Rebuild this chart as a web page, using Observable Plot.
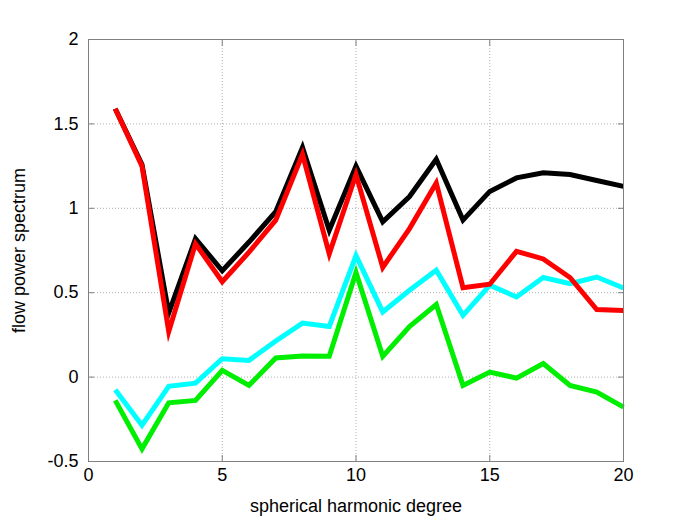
<!DOCTYPE html>
<html>
<head>
<meta charset="utf-8">
<script src="https://cdn.jsdelivr.net/npm/d3@7"></script>
<script src="https://cdn.jsdelivr.net/npm/@observablehq/plot@0.6"></script>
<style>
  html, body { margin: 0; padding: 0; background: #fff; }
</style>
</head>
<body>
<div id="chart"></div>
<script>
const degrees = [1,2,3,4,5,6,7,8,9,10,11,12,13,14,15,16,17,18,19,20];
const blackSeries = [1.59,1.26,0.38,0.82,0.63,0.80,0.98,1.36,0.87,1.25,0.92,1.07,1.29,0.93,1.10,1.18,1.21,1.20,1.165,1.13];
const redSeries   = [1.59,1.25,0.27,0.79,0.565,0.74,0.93,1.32,0.73,1.20,0.65,0.88,1.15,0.53,0.55,0.745,0.70,0.59,0.40,0.395];
const cyanSeries  = [-0.075,-0.285,-0.055,-0.036,0.109,0.099,0.214,0.32,0.30,0.72,0.386,0.514,0.633,0.366,0.544,0.475,0.59,0.554,0.593,0.528];
const greenSeries = [-0.138,-0.425,-0.152,-0.138,0.04,-0.049,0.113,0.125,0.123,0.62,0.123,0.30,0.43,-0.049,0.03,-0.006,0.08,-0.05,-0.089,-0.178];
const xTicks = [0,5,10,15,20];
const yTicks = [-0.5,0,0.5,1,1.5,2];
const yTickLabels = ["-0.5","0","0.5","1","1.5","2"];

const toRows = vals => degrees.map((d, i) => ({x: d, y: vals[i]}));
const lineOpts = c => ({x: "x", y: "y", stroke: c, strokeWidth: 5, strokeLinejoin: "miter", strokeMiterlimit: 10, strokeLinecap: "butt"});

const chart = Plot.plot({
  width: 690,
  height: 517,
  marginLeft: 88,
  marginRight: 67,
  marginTop: 39,
  marginBottom: 56,
  style: {fontFamily: "'Liberation Sans', Arial, sans-serif", fontSize: "18px", background: "#fff", color: "#000"},
  x: {domain: [0, 20]},
  y: {domain: [-0.5, 2]},
  marks: [
    Plot.gridX(xTicks, {stroke: "#999", strokeOpacity: 1, strokeDasharray: "1,2", strokeWidth: 0.8}),
    Plot.gridY(yTicks, {stroke: "#999", strokeOpacity: 1, strokeDasharray: "1,2", strokeWidth: 0.8}),
    Plot.line(toRows(cyanSeries), lineOpts("#00ffff")),
    Plot.line(toRows(greenSeries), lineOpts("#00ee00")),
    Plot.line(toRows(blackSeries), lineOpts("#000000")),
    Plot.line(toRows(redSeries), lineOpts("#ff0000")),
    Plot.frame({stroke: "#808080", strokeWidth: 1}),
    Plot.axisX(xTicks, {anchor: "bottom", tickSize: -6, text: null, stroke: "#808080", label: null}),
    Plot.axisX(xTicks, {anchor: "top", tickSize: -6, text: null, stroke: "#808080", label: null}),
    Plot.axisY(yTicks, {anchor: "left", tickSize: -6, text: null, stroke: "#808080", label: null}),
    Plot.axisY(yTicks, {anchor: "right", tickSize: -6, text: null, stroke: "#808080", label: null}),
    Plot.axisX(xTicks, {anchor: "bottom", tickSize: 0, tickPadding: 7, fontSize: 18, tickFormat: d => String(d),
      label: "spherical harmonic degree", labelAnchor: "center", labelOffset: 50, labelArrow: "none"}),
    Plot.axisY(yTicks, {anchor: "left", tickSize: 0, tickPadding: 10, fontSize: 18, tickFormat: (d, i) => yTickLabels[i],
      label: "flow power spectrum", labelAnchor: "center", labelOffset: 76, labelArrow: "none"})
  ]
});
document.getElementById("chart").appendChild(chart);
</script>
</body>
</html>
